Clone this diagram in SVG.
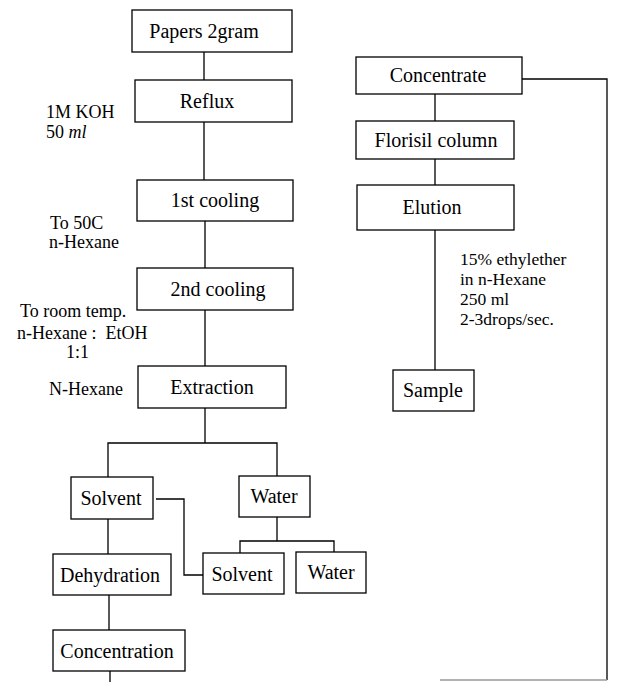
<svg xmlns="http://www.w3.org/2000/svg" width="617" height="682" viewBox="0 0 617 682">
<style>
.box{fill:#fff;stroke:#000;stroke-width:1.3}
.lbl{font-family:"Liberation Serif","Times New Roman",serif;font-size:20px;fill:#000;text-anchor:middle}
.side{font-family:"Liberation Serif","Times New Roman",serif;font-size:18px;fill:#000}
.note{font-family:"Liberation Serif","Times New Roman",serif;font-size:17.5px;fill:#000}
.conn{fill:none;stroke:#000;stroke-width:1.3}
</style>
<rect width="617" height="682" fill="#fff"/>
<g id="connectors">
<path class="conn" d="M204,52V80M204,122V180M205,221V268M205,310V366"/>
<path class="conn" d="M205,408V443M108,477V443H277V476"/>
<path class="conn" d="M108,519V554M109,595V630M110,671V682"/>
<path class="conn" d="M156,499H184V575H203"/>
<path class="conn" d="M277,517V541M240,553V541H334V552"/>
<path class="conn" d="M435,94V121M435,159V185M435,230V370"/>
<path class="conn" d="M522,79H607V680"/>
<path d="M440,680H607" fill="none" stroke="#999" stroke-width="1.3"/>
</g>
<g id="papers"><rect class="box" x="132" y="10" width="160" height="42"/><text class="lbl" x="204" y="38">Papers 2gram</text></g>
<g id="reflux"><rect class="box" x="135" y="80" width="157" height="42"/><text class="lbl" x="207" y="108">Reflux</text></g>
<g id="cooling1"><rect class="box" x="137" y="180" width="156" height="41"/><text class="lbl" x="215" y="207">1st cooling</text></g>
<g id="cooling2"><rect class="box" x="137" y="268" width="156" height="42"/><text class="lbl" x="218" y="296">2nd cooling</text></g>
<g id="extraction"><rect class="box" x="138" y="366" width="148" height="42"/><text class="lbl" x="212" y="394">Extraction</text></g>
<g id="solvent1"><rect class="box" x="71" y="477" width="82" height="42"/><text class="lbl" x="111" y="505">Solvent</text></g>
<g id="water1"><rect class="box" x="239" y="476" width="71" height="41"/><text class="lbl" x="274" y="503">Water</text></g>
<g id="dehydration"><rect class="box" x="53" y="554" width="118" height="41"/><text class="lbl" x="110" y="582">Dehydration</text></g>
<g id="solvent2"><rect class="box" x="203" y="553" width="81" height="41"/><text class="lbl" x="242" y="581">Solvent</text></g>
<g id="water2"><rect class="box" x="296" y="552" width="70" height="41"/><text class="lbl" x="331" y="579">Water</text></g>
<g id="concentration"><rect class="box" x="53" y="630" width="132" height="41"/><text class="lbl" x="117" y="658">Concentration</text></g>
<g id="concentrate"><rect class="box" x="356" y="57" width="166" height="37"/><text class="lbl" x="438" y="82">Concentrate</text></g>
<g id="florisil"><rect class="box" x="356" y="121" width="158" height="38"/><text class="lbl" x="436" y="147">Florisil column</text></g>
<g id="elution"><rect class="box" x="357" y="185" width="157" height="45"/><text class="lbl" x="432" y="214">Elution</text></g>
<g id="sample"><rect class="box" x="393" y="370" width="81" height="41"/><text class="lbl" x="433" y="397">Sample</text></g>
<g id="labels">
<text class="side" x="46" y="118">1M KOH</text>
<text class="side" x="46" y="138">50 <tspan font-style="italic">ml</tspan></text>
<text class="side" x="50" y="229">To 50C</text>
<text class="side" x="49" y="248">n-Hexane</text>
<text class="side" x="20" y="317">To room temp.</text>
<text class="side" x="17" y="339" xml:space="preserve">n-Hexane :  EtOH</text>
<text class="side" x="66" y="358">1:1</text>
<text class="side" x="49" y="395">N-Hexane</text>
<text class="note" x="460" y="265">15% ethylether</text>
<text class="note" x="460" y="285">in n-Hexane</text>
<text class="note" x="460" y="305">250 ml</text>
<text class="note" x="460" y="325">2-3drops/sec.</text>
</g>
</svg>
